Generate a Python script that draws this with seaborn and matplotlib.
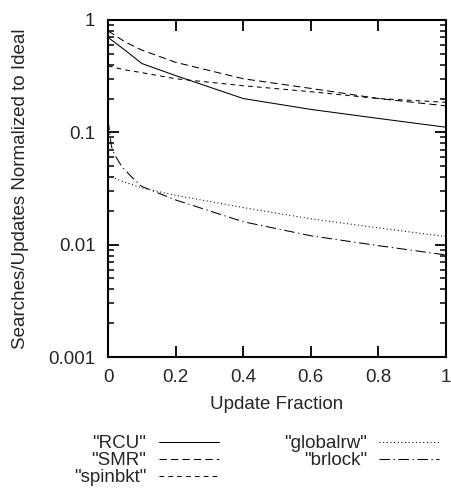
import matplotlib
matplotlib.use("Agg")
import matplotlib.pyplot as plt
import matplotlib.ticker as mticker
import numpy as np
import pandas as pd
import seaborn as sns

# values (update fraction vs normalized throughput)
x_main = [0, 0.05, 0.1, 0.2, 0.4, 0.6, 0.8, 1.0]
rcu = [0.70, 0.54, 0.41, 0.32, 0.20, 0.16, 0.133, 0.111]
smr = [0.80, 0.64, 0.54, 0.42, 0.30, 0.246, 0.20, 0.172]
spinbkt = [0.39, 0.36, 0.34, 0.30, 0.26, 0.23, 0.20, 0.185]
globalrw = [0.041, 0.036, 0.032, 0.0275, 0.0214, 0.017, 0.0141, 0.0118]

x_brlock = [0, 0.01, 0.02, 0.04, 0.07, 0.1, 0.2, 0.4, 0.6, 0.8, 1.0]
brlock = [0.13, 0.075, 0.063, 0.05, 0.04, 0.033, 0.025, 0.016, 0.012, 0.0098, 0.0081]

labels = ['"RCU"', '"SMR"', '"spinbkt"', '"globalrw"', '"brlock"']
xs = [x_main, x_main, x_main, x_main, x_brlock]
ys = [rcu, smr, spinbkt, globalrw, brlock]
styles = ["-", (0, (7, 4)), (0, (4.5, 4)), (0, (1, 2.5)), (0, (10, 3.5, 1.2, 3.5))]

sns.set_style("ticks")
plt.rcParams["font.family"] = ["Liberation Sans", "DejaVu Sans"]
fs = 13.5

fig = plt.figure(figsize=(4.51, 4.88), dpi=100)
ax = fig.add_axes([108 / 451, 1 - 357 / 488, (446 - 108) / 451, (357 - 20) / 488])

for i in range(len(labels)):
    df = pd.DataFrame({"x": xs[i], "y": ys[i]})
    sns.lineplot(data=df, x="x", y="y", color="black", linewidth=0.75,
                 linestyle=styles[i], label=labels[i], ax=ax)

ax.set_yscale("log")
ax.set_xlim(0, 1)
ax.set_ylim(0.001, 1)
ax.set_xticks([0, 0.2, 0.4, 0.6, 0.8, 1])
ax.xaxis.set_major_formatter(mticker.FormatStrFormatter("%g"))
ax.set_yticks([0.001, 0.01, 0.1, 1])
ax.yaxis.set_major_formatter(mticker.FormatStrFormatter("%g"))
ax.yaxis.set_minor_locator(mticker.LogLocator(base=10, subs=np.arange(2, 10)))
ax.yaxis.set_minor_formatter(mticker.NullFormatter())

ax.tick_params(which="both", direction="in", top=True, right=True, color="black")
ax.tick_params(which="major", length=8, width=1.3, pad=9, labelsize=fs)
ax.tick_params(which="minor", length=4.5, width=1.1)
for s in ax.spines.values():
    s.set_linewidth(1.5)
    s.set_color("black")

ax.set_xlabel("Update Fraction", fontsize=fs, labelpad=7)
ax.set_ylabel("Searches/Updates Normalized to Ideal", fontsize=fs, labelpad=14)

ax.get_legend().remove()
handles, labs = ax.get_legend_handles_labels()
fig.legend(handles, labs, loc="upper left", bbox_to_anchor=(74 / 451, 1 - 435 / 488),
           ncol=2, frameon=False, markerfirst=False, fontsize=fs,
           handlelength=3.2, handletextpad=0.65, columnspacing=3.5,
           labelspacing=0.0, borderpad=0, borderaxespad=0)

fig.savefig("out.png", dpi=100)
